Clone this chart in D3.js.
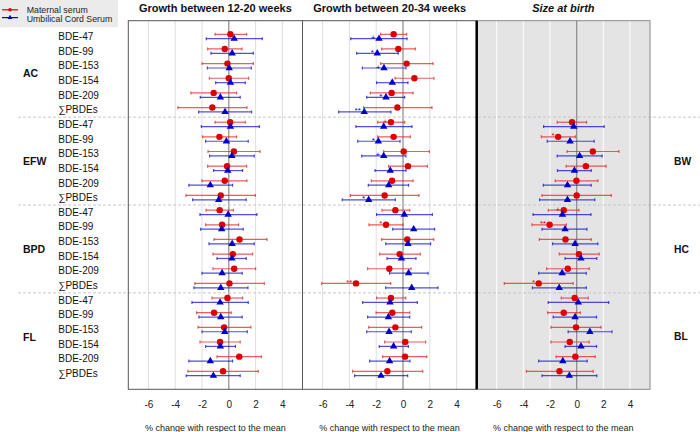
<!DOCTYPE html>
<html><head><meta charset="utf-8">
<script src="https://cdn.jsdelivr.net/npm/d3@7"></script>
<style>body{margin:0;background:#fff}svg{display:block;font-family:"Liberation Sans",Arial,sans-serif}</style>
</head><body><svg id="c" width="700" height="432"></svg>
<script>
const rowLabels = ["BDE-47","BDE-99","BDE-153","BDE-154","BDE-209","\u2211PBDEs"];
const outcomesLeft = ["AC","EFW","BPD","FL"];
const outcomesRight = ["","BW","HC","BL"];
const panelTitles = ["Growth between 12-20 weeks","Growth between 20-34 weeks","Size at birth"];
const xTicks = [-6,-4,-2,0,2,4];
const legendLabels = ["Maternal serum","Umbilical Cord Serum"];
const axisTitle = "% change with respect to the mean";

const p1MatEst = [0.12,-0.3,-0.1,0,-1.13,-1.23, 0.1,-0.7,0.38,-0.13,-0.3,-0.6, -0.68,-0.5,0.8,0.3,0.4,0.05, -0.1,-1.1,-0.35,-0.65,0.78,-0.43];
const p1MatLo  = [-1.03,-1.58,-2.0,-1.45,-2.83,-3.8, -1.03,-1.95,-1.55,-1.58,-2.0,-3.2, -1.7,-1.73,-1.1,-1.18,-1.18,-2.53, -1.25,-2.4,-2.3,-2.15,-0.88,-3.05];
const p1MatHi  = [1.33,0.98,1.83,1.48,0.58,1.35, 1.23,0.58,2.33,1.33,1.35,1.98, 0.35,0.73,2.85,1.78,2.0,2.65, 1.03,0.18,1.65,0.85,2.43,2.2];
const p1CordEst = [0.4,0.25,0.03,0.12,-0.63,-0.28, 0.12,-0.18,0.23,-0.08,-1.38,-0.75, -0.05,-0.53,0.25,0.23,-0.5,-0.6, -0.65,-0.6,-0.3,-0.63,-1.38,-1.15];
const p1CordLo  = [-1.68,-1.33,-1.6,-0.98,-2.13,-2.25, -2.05,-1.73,-1.43,-1.13,-2.98,-2.7, -2.15,-2.1,-1.48,-0.88,-2.0,-2.6, -2.75,-2.23,-2.0,-1.73,-2.98,-3.18];
const p1CordHi  = [2.5,1.83,1.68,1.23,0.85,1.7, 2.28,1.45,1.9,1.03,0.28,1.3, 2.1,1.08,1.9,1.3,1.0,1.43, 1.45,1.0,1.38,0.5,0.28,0.85];
const p1MatSig  = ["","","","","","", "","","","","","", "","","","","","", "","","","","",""];
const p1CordSig = ["","","","","","", "","","","","","", "","","","","","", "","","","","",""];

const p2MatEst = [-0.7,-0.35,0.27,0.85,-0.85,-0.42, -0.9,-0.7,0.05,0.37,-0.82,-1.37, -0.57,-1.27,0.32,-0.25,-1.02,-3.51, -0.9,-0.8,-0.57,0.17,0.15,-1.17];
const p2MatLo  = [-1.67,-1.59,-1.67,-0.6,-2.44,-2.94, -1.89,-1.89,-1.44,-1.07,-2.36,-3.93, -1.57,-2.54,-1.59,-1.74,-2.64,-6.07, -1.97,-2.01,-2.56,-1.37,-1.52,-3.76];
const p2MatHi  = [0.27,0.92,2.24,2.31,0.75,2.16, 0.12,0.55,1.97,1.82,0.75,1.19, 0.5,0,2.29,1.29,0.6,-0.92, 0.2,0.5,1.39,1.69,1.77,1.47];
const p2CordEst = [-1.79,-1.92,-1.42,-0.8,-1.27,-2.89, -1.44,-1.84,-1.44,-0.95,-1.07,-2.56, 0.1,0.8,0.37,-0.12,0.42,0.65, -0.97,-1.09,-1.04,-0.7,-1.0,-1.64];
const p2CordLo  = [-3.9,-3.46,-3.03,-1.97,-2.71,-4.8, -3.51,-3.38,-3.08,-2.09,-2.59,-4.53, -1.97,-0.77,-1.29,-1.19,-1.0,-1.29, -3.01,-2.64,-2.71,-1.77,-2.49,-3.61];
const p2CordHi  = [0.3,-0.35,0.22,0.37,0.12,-0.9, 0.67,-0.22,0.22,0.22,0.42,-0.57, 2.19,2.36,2.06,0.97,1.87,2.61, 1.07,0.5,0.62,0.4,0.52,0.35];
const p2MatSig  = ["","","","","","", "+","","","","","", "","*","","","","**", "","","","","",""];
const p2CordSig = ["+","*","+","","*","**", "","*","+","","","*", "","","","","","", "","","","","",""];

const p3MatEst = [null,null,null,null,null,null, -0.35,-1.39,1.21,0.69,-0.02,0, -0.97,-2.03,-0.84,0.17,-0.67,-2.85, -0.15,-0.97,-0.05,-0.52,-0.1,-1.29];
const p3MatLo  = [null,null,null,null,null,null, -1.46,-2.65,-0.72,-0.79,-1.61,-2.6, -2.13,-3.35,-2.8,-1.31,-2.26,-5.43, -1.16,-2.18,-1.93,-1.93,-1.54,-3.77];
const p3MatHi  = [null,null,null,null,null,null, 0.74,-0.1,3.17,2.21,1.59,2.6, 0.17,-0.77,1.09,1.69,0.94,-0.27, 0.87,0.27,1.83,0.94,1.39,1.24];
const p3CordEst = [null,null,null,null,null,null, -0.22,-0.5,0.22,-0.17,-0.69,-0.69, -1.07,-0.87,-0.12,0.32,-1.09,-1.31, 0.12,-0.12,0.99,0.32,-1.04,-0.55];
const p3CordLo  = [null,null,null,null,null,null, -2.48,-2.21,-1.46,-1.44,-2.5,-2.78, -3.27,-2.6,-1.81,-0.87,-2.85,-3.32, -2.13,-1.76,-0.64,-0.87,-2.85,-2.6];
const p3CordHi  = [null,null,null,null,null,null, 2.06,1.31,1.91,1.09,1.09,1.36, 1.07,0.77,1.59,1.51,0.72,0.72, 2.4,1.49,2.65,1.49,0.79,1.51];
const p3MatSig  = ["","","","","","", "","*","","","","", "+","**","","","","*", "","","","","",""];
const p3CordSig = ["","","","","","", "","","","","","", "","","","","","", "","","","","",""];

const panels = [
  {mat:[p1MatEst,p1MatLo,p1MatHi,p1MatSig], cord:[p1CordEst,p1CordLo,p1CordHi,p1CordSig]},
  {mat:[p2MatEst,p2MatLo,p2MatHi,p2MatSig], cord:[p2CordEst,p2CordLo,p2CordHi,p2CordSig]},
  {mat:[p3MatEst,p3MatLo,p3MatHi,p3MatSig], cord:[p3CordEst,p3CordLo,p3CordHi,p3CordSig]}
];

const svg = d3.select("#c");
const yTop = 20.7, yBot = 389.3;
const edges = [128.3, 302.5, 476.7, 650];
const nRows = outcomesLeft.length * rowLabels.length;
const y = d3.scaleLinear().domain([-1.08, nRows - 1 + 1.08]).range([yTop, yBot]);
const red = "#dd0000", redLine = "rgba(225,40,40,0.75)";
const blue = "#0000cc", blueLine = "rgba(20,20,210,0.75)";
const off = 2.2;

// panel 3 background
svg.append("rect").attr("x", edges[2]).attr("y", yTop).attr("width", edges[3]-edges[2]).attr("height", yBot-yTop).attr("fill", "#e4e4e4");

panels.forEach((p, pi) => {
  const x = d3.scaleLinear().domain([-7.5, 5.5]).range([edges[pi], edges[pi+1]]);
  p.x = x;
  const g = svg.append("g");
  g.selectAll("line.grid").data(xTicks).enter().append("line")
    .attr("x1", d => x(d)).attr("x2", d => x(d)).attr("y1", yTop).attr("y2", yBot)
    .attr("stroke", d => d === 0 ? "#8a8a8a" : (pi === 2 ? "#ffffff" : "#dedede"))
    .attr("stroke-width", d => d === 0 ? 1.2 : 1);
  const ax = svg.append("g").attr("transform", `translate(0,${yBot})`)
    .call(d3.axisBottom(x).tickValues(xTicks).tickSize(0).tickPadding(12).tickFormat(d => String(d)));
  ax.select(".domain").remove();
  ax.selectAll("text").attr("font-size", 10).attr("fill", "#222").attr("font-family", '"Liberation Sans",Arial,sans-serif');
  svg.append("text").attr("x", (edges[pi]+edges[pi+1])/2).attr("y", 430.5).attr("text-anchor", "middle")
    .attr("font-size", 9).attr("fill", "#222").text(axisTitle);
  svg.append("text").attr("x", (edges[pi]+edges[pi+1])/2).attr("y", 12.3).attr("text-anchor", "middle")
    .attr("font-size", 11).attr("font-weight", "bold").attr("font-style", pi === 2 ? "italic" : "normal")
    .attr("fill", "#111").text(panelTitles[pi]);
});

// dashed separators
for (let k = 1; k < outcomesLeft.length; k++) {
  const yy = (y(k*rowLabels.length - 1) + y(k*rowLabels.length)) / 2;
  svg.append("line").attr("x1", 18).attr("x2", 700).attr("y1", yy).attr("y2", yy)
    .attr("stroke", "#c8c8c8").attr("stroke-dasharray", "3,2").attr("stroke-width", 1);
}

// frames
svg.append("rect").attr("x", edges[0]).attr("y", yTop).attr("width", edges[2]-edges[0]).attr("height", yBot-yTop)
  .attr("fill", "none").attr("stroke", "#555").attr("stroke-width", 1);
svg.append("line").attr("x1", edges[1]).attr("x2", edges[1]).attr("y1", yTop).attr("y2", yBot).attr("stroke", "#555");
svg.append("rect").attr("x", edges[2]).attr("y", yTop).attr("width", edges[3]-edges[2]).attr("height", yBot-yTop)
  .attr("fill", "none").attr("stroke", "#8a8a8a").attr("stroke-width", 1);
svg.append("line").attr("x1", edges[2]).attr("x2", edges[2]).attr("y1", yTop).attr("y2", yBot)
  .attr("stroke", "#000").attr("stroke-width", 2.5);

// data
const tri = d3.symbol().type(d3.symbolTriangle).size(24);
panels.forEach(p => {
  const x = p.x;
  [["mat", -off, redLine, red], ["cord", off, blueLine, blue]].forEach(([key, dy, lc, fc]) => {
    const [est, lo, hi, sig] = p[key];
    const data = est.map((e, i) => ({i, e, lo: lo[i], hi: hi[i], s: sig[i]})).filter(d => d.e !== null);
    const g = svg.append("g");
    g.selectAll("line.bar").data(data).enter().append("line")
      .attr("x1", d => x(d.lo)).attr("x2", d => x(d.hi)).attr("y1", d => y(d.i)+dy).attr("y2", d => y(d.i)+dy)
      .attr("stroke", lc).attr("stroke-width", 1.2);
    ["lo","hi"].forEach(k => {
      g.selectAll("line.cap"+k).data(data).enter().append("line")
        .attr("x1", d => x(d[k])).attr("x2", d => x(d[k])).attr("y1", d => y(d.i)+dy-1.5).attr("y2", d => y(d.i)+dy+1.5)
        .attr("stroke", lc).attr("stroke-width", 1.2);
    });
    if (key === "mat") {
      g.selectAll("circle").data(data).enter().append("circle")
        .attr("cx", d => x(d.e)).attr("cy", d => y(d.i)+dy).attr("r", 3.2).attr("fill", fc);
    } else {
      g.selectAll("path").data(data).enter().append("path").attr("d", tri)
        .attr("transform", d => `translate(${x(d.e)},${y(d.i)+dy})`).attr("fill", fc);
    }
    g.selectAll("text").data(data.filter(d => d.s)).enter().append("text")
      .attr("x", d => x(d.e) - 3.5).attr("y", d => y(d.i)+dy+1.5).attr("text-anchor", "end")
      .attr("font-size", 8).attr("fill", fc).text(d => d.s);
  });
});

// row labels
const lab = svg.append("g");
for (let gi = 0; gi < outcomesLeft.length; gi++) {
  rowLabels.forEach((r, ri) => {
    lab.append("text").attr("x", 58.3).attr("y", y(gi*rowLabels.length + ri)).attr("dy", "0.35em")
      .attr("font-size", 10).attr("fill", "#111").text(r);
  });
  const cy = y(gi*rowLabels.length + (rowLabels.length-1)/2);
  lab.append("text").attr("x", 23).attr("y", cy).attr("dy", "0.35em").attr("font-size", 10.5)
    .attr("font-weight", "bold").attr("fill", "#111").text(outcomesLeft[gi]);
  if (outcomesRight[gi]) lab.append("text").attr("x", 674).attr("y", cy).attr("dy", "0.35em").attr("font-size", 10.3)
    .attr("font-weight", "bold").attr("fill", "#111").text(outcomesRight[gi]);
}

// legend
const lg = svg.append("g");
lg.append("rect").attr("x", 0).attr("y", 0).attr("width", 118).attr("height", 27.3).attr("fill", "#ebebeb");
[[9.8, red, 12.9], [17.6, blue, 22.4]].forEach(([ly, c, ty], k) => {
  lg.append("line").attr("x1", 2).attr("x2", 18).attr("y1", ly).attr("y2", ly).attr("stroke", c).attr("stroke-width", 1.2);
  if (k === 0) lg.append("circle").attr("cx", 10).attr("cy", ly).attr("r", 1.8).attr("fill", c);
  else lg.append("path").attr("d", d3.symbol().type(d3.symbolTriangle).size(10)).attr("transform", `translate(10,${ly})`).attr("fill", c);
  lg.append("text").attr("x", 26.7).attr("y", ty).attr("font-size", 8.8).attr("fill", "#222").text(legendLabels[k]);
});
</script></body></html>
